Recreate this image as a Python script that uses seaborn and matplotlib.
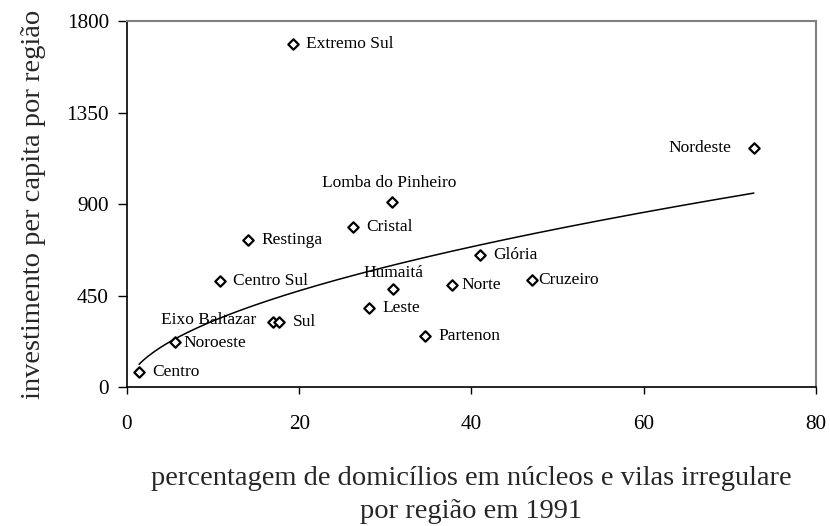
import numpy as np
import pandas as pd
import matplotlib
matplotlib.use("Agg")
import matplotlib.pyplot as plt
import seaborn as sns

# data
regioes = ["Extremo Sul", "Nordeste", "Lomba do Pinheiro", "Cristal", "Restinga",
           "Glória", "Centro Sul", "Cruzeiro", "Humaitá", "Norte", "Leste",
           "Eixo Baltazar", "Sul", "Partenon", "Noroeste", "Centro"]
pct_vilas = [19.3, 72.8, 30.8, 26.2, 14.1,
             41.0, 10.8, 47.0, 30.9, 37.8, 28.1,
             16.9, 17.7, 34.6, 5.6, 1.4]
invest_pc = [1686, 1178, 909, 787, 725,
             651, 523, 528, 482, 503, 391,
             320, 320, 253, 223, 75]

# label offsets in points (dx, dy, ha)
label_pos = {
    "Nordeste": (-16, 0, "right"),
    "Lomba do Pinheiro": (-2, 14, "center"),
    "Humaitá": (0, 11.5, "center"),
    "Eixo Baltazar": (-12, 1.5, "right"),
    "Cruzeiro": (5, 0, "left"),
    "Norte": (6.5, 0, "left"),
    "Noroeste": (6, -1, "left"),
}

df = pd.DataFrame({"regiao": regioes, "x": pct_vilas, "y": invest_pc})

sns.set_theme(style="white")
plt.rcParams["font.family"] = ["Liberation Serif", "DejaVu Serif"]

fig = plt.figure(figsize=(8.3, 5.26), dpi=100)
ax = fig.add_axes([0.153, 0.264, 0.830, 0.696])

# power trendline fitted on the data (y = a * x^b)
b, ln_a = np.polyfit(np.log(df["x"]), np.log(df["y"]), 1)
xs = np.linspace(df["x"].min(), df["x"].max(), 200)
ax.plot(xs, np.exp(ln_a) * xs ** b, color="black", lw=1.1, zorder=2)

sns.scatterplot(data=df, x="x", y="y", ax=ax, marker="D", s=28,
                facecolor="white", edgecolor="black", linewidth=1.6, zorder=3)

for _, r in df.iterrows():
    dx, dy, ha = label_pos.get(r["regiao"], (9.5, 0, "left"))
    ax.annotate(r["regiao"], (r["x"], r["y"]), xytext=(dx, dy),
                textcoords="offset points", ha=ha, va="center",
                fontsize=12.5, color="black")

ax.set_xlim(0, 80)
ax.set_ylim(0, 1800)
ax.set_xticks([0, 20, 40, 60, 80])
ax.set_yticks([0, 450, 900, 1350, 1800])
ax.tick_params(axis="both", labelsize=15.3, colors="black", direction="out",
               width=1, left=True, bottom=True)
ax.tick_params(axis="y", length=6.5, pad=6.5)
ax.tick_params(axis="x", length=5, pad=15)

for side in ["left", "bottom"]:
    ax.spines[side].set_color("black")
    ax.spines[side].set_linewidth(1.2)
for side in ["top", "right"]:
    ax.spines[side].set_color("#808080")
    ax.spines[side].set_linewidth(1.5)

ax.set_xlabel("percentagem de domicílios em núcleos e vilas irregulare\npor região em 1991",
              fontsize=20.5, labelpad=23, linespacing=1.45)
ax.set_ylabel("investimento per capita por região", fontsize=20.5, labelpad=15)

fig.savefig("out.png", dpi=100, facecolor="white")
